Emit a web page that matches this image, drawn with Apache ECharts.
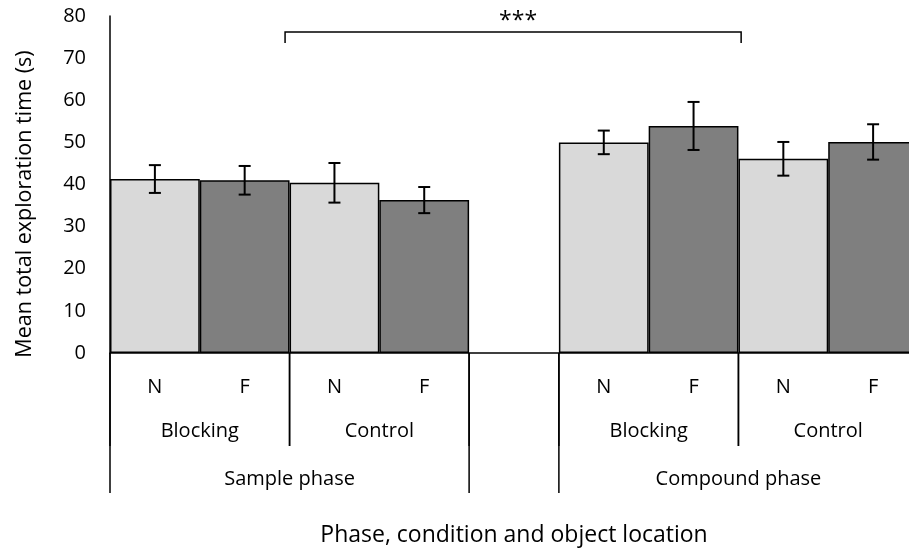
<!DOCTYPE html>
<html>
<head>
<meta charset="utf-8">
<script src="https://cdn.jsdelivr.net/npm/echarts@6/dist/echarts.min.js"></script>
<style>
  html, body { margin: 0; padding: 0; background: #fff; overflow: hidden; }
  #wrap { width: 909px; height: 548px; overflow: hidden; }
  #chart { width: 918px; height: 548px; }
</style>
</head>
<body>
<div id="wrap"><div id="chart"></div></div>
<script>
// Object location per bar slot (slot 4 is the spacer between the two phases)
const locations = ['N', 'F', 'N', 'F', '', 'N', 'F', 'N', 'F'];
// Mean total exploration time (s)
const means = [41.3, 41.0, 40.4, 36.3, null, 50.0, 53.9, 46.1, 50.1];
// Error (half-length of each error bar, s)
const errors = [3.3, 3.4, 4.7, 3.1, null, 2.8, 5.7, 4.0, 4.2];
// Condition groups: [first slot, last slot]
const conditionGroups = [[0, 1], [2, 3], [5, 6], [7, 8]];
const conditionNames = ['Blocking', 'Control', 'Blocking', 'Control'];
// Phase groups: [first slot, last slot]
const phaseGroups = [[0, 3], [5, 8]];
const phaseNames = ['Sample phase', 'Compound phase'];
// Significance bracket between the phases (slot positions) and its marker
const sigBracket = [1.45, 6.53];
const sigLevel = 76.2;
const sigTick = 2.6;
const sigLabel = '***';
const yTitle = 'Mean total exploration time (s)';
const xTitle = 'Phase, condition and object location';

const FONT = 'Open Sans';
const LIGHT = '#d9d9d9';
const DARK = '#7f7f7f';

const chart = echarts.init(document.getElementById('chart'), null, { renderer: 'canvas' });

const barData = means.map((v, i) => v == null ? null : {
  value: v,
  itemStyle: { color: locations[i] === 'N' ? LIGHT : DARK }
});

function slotEdges(api, a, b) {
  const bw = api.size([1, 0])[0];
  return [api.coord([a, 0])[0] - bw / 2, api.coord([b, 0])[0] + bw / 2];
}

const option = {
  animation: false,
  backgroundColor: '#fff',
  textStyle: { fontFamily: FONT },
  grid: { left: 110, top: 16, right: 0, height: 337, containLabel: false, outerBoundsMode: 'none' },
  graphic: [{
    type: 'text',
    x: 25, y: 204,
    rotation: Math.PI / 2,
    style: {
      text: yTitle, align: 'center', verticalAlign: 'middle',
      fontSize: 21.5, fontFamily: FONT, fill: '#000'
    }
  }],
  xAxis: {
    type: 'category',
    data: locations,
    axisLine: { lineStyle: { color: '#000', width: 1.5 } },
    axisTick: { show: false },
    axisLabel: { color: '#000', fontSize: 20, fontFamily: FONT, margin: 24 },
    name: xTitle,
    nameLocation: 'middle',
    nameGap: 171,
    nameTextStyle: { color: '#000', fontSize: 23, fontFamily: FONT }
  },
  yAxis: {
    type: 'value',
    min: 0, max: 80, interval: 10,
    axisLine: { show: true, lineStyle: { color: '#000', width: 1.5 } },
    axisTick: { show: false },
    splitLine: { show: false },
    axisLabel: { color: '#000', fontSize: 20, fontFamily: FONT, margin: 24 }
  },
  series: [
    {
      type: 'bar',
      data: barData,
      barCategoryGap: '0%',
      itemStyle: { borderColor: '#000', borderWidth: 1.5 }
    },
    {
      // error bars
      type: 'custom',
      data: means.map((m, i) => m == null ? [i, 0, 0] : [i, m, errors[i]]),
      z: 5,
      renderItem(params, api) {
        const i = api.value(0), m = api.value(1), e = api.value(2);
        if (!e) return null;
        const top = api.coord([i, m + e]);
        const bot = api.coord([i, m - e]);
        const cap = 6;
        const st = { stroke: '#000', lineWidth: 2 };
        return {
          type: 'group',
          children: [
            { type: 'line', shape: { x1: top[0], y1: top[1], x2: bot[0], y2: bot[1] }, style: st },
            { type: 'line', shape: { x1: top[0] - cap, y1: top[1], x2: top[0] + cap, y2: top[1] }, style: st },
            { type: 'line', shape: { x1: bot[0] - cap, y1: bot[1], x2: bot[0] + cap, y2: bot[1] }, style: st }
          ]
        };
      }
    },
    {
      // condition and phase labels below the axis, with separators
      type: 'custom',
      clip: false,
      silent: true,
      data: conditionGroups.map((g, k) => [g[0], g[1], 1, k])
        .concat(phaseGroups.map((g, k) => [g[0], g[1], 2, k])),
      renderItem(params, api) {
        const a = api.value(0), b = api.value(1), level = api.value(2), k = api.value(3);
        const [x0, x1] = slotEdges(api, a, b);
        const y0 = api.coord([0, 0])[1];
        const depth = level === 1 ? 93 : 140;
        const textY = level === 1 ? 78 : 126;
        const label = level === 1 ? conditionNames[k] : phaseNames[k];
        const st = { stroke: '#000', lineWidth: 1.5 };
        return {
          type: 'group',
          children: [
            { type: 'line', shape: { x1: x0, y1: y0, x2: x0, y2: y0 + depth }, style: st },
            { type: 'line', shape: { x1: x1, y1: y0, x2: x1, y2: y0 + depth }, style: st },
            { type: 'text', style: {
                text: label, x: (x0 + x1) / 2, y: y0 + textY,
                align: 'center', verticalAlign: 'middle',
                fontSize: 20, fontFamily: FONT, fill: '#000' } }
          ]
        };
      }
    },
    {
      // significance bracket
      type: 'custom',
      clip: false,
      silent: true,
      data: [[sigBracket[0], sigBracket[1], sigLevel]],
      renderItem(params, api) {
        const a = api.value(0), b = api.value(1), lvl = api.value(2);
        const bw = api.size([1, 0])[0];
        const xa = api.coord([Math.floor(a), 0])[0] + (a - Math.floor(a)) * bw;
        const xb = api.coord([Math.floor(b), 0])[0] + (b - Math.floor(b)) * bw;
        const y = api.coord([0, lvl])[1];
        const yt = api.coord([0, lvl - sigTick])[1];
        const st = { stroke: '#000', lineWidth: 1.5 };
        return {
          type: 'group',
          children: [
            { type: 'polyline', shape: { points: [[xa, yt], [xa, y], [xb, y], [xb, yt]] }, style: Object.assign({ fill: null }, st) },
            { type: 'text', style: {
                text: sigLabel, x: (xa + xb) / 2 + 5, y: y - 11,
                align: 'center', verticalAlign: 'middle',
                fontSize: 23, fontFamily: FONT, fill: '#000' } }
          ]
        };
      }
    }
  ]
};

chart.setOption(option);
</script>
</body>
</html>
